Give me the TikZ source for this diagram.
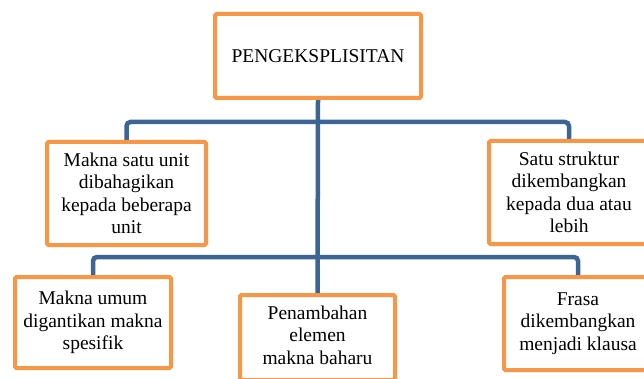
\documentclass[tikz,border=0pt]{standalone}
\usepackage{fontspec}
\setmainfont{Liberation Serif}
\usetikzlibrary{backgrounds}
\definecolor{boxorange}{HTML}{F79646}
\definecolor{linkblue}{HTML}{3C6595}
\begin{document}
\begin{tikzpicture}[x=1pt,y=-1pt,
  box/.style={draw=boxorange, line width=4pt, fill=white, rounded corners=1.5pt,
    align=center, inner sep=0pt, font=\fontsize{19.5}{22.5}\selectfont},
  conn/.style={draw=linkblue, line width=4.5pt, rounded corners=4pt}]
\useasboundingbox (0,0) rectangle (644,379);
\clip (0,0) rectangle (644,379);
% nodes
\node[box, minimum width=206pt, minimum height=84pt] (top) at (318,56) {PENGEKSPLISITAN};
\node[box, minimum width=159pt, minimum height=103pt] (b1) at (126.5,193.5) {Makna satu unit\\dibahagikan\\kepada beberapa\\unit};
\node[box, minimum width=160pt, minimum height=103pt] (b2) at (569,192.5) {Satu struktur\\dikembangkan\\kepada dua atau\\lebih};
\node[box, minimum width=156pt, minimum height=91pt] (b3) at (93,322.5) {Makna umum\\digantikan makna\\spesifik};
\node[box, minimum width=155pt, minimum height=85pt] (b4) at (317.5,337.5) {};
\node[font=\fontsize{19.5}{22.5}\selectfont, align=center, inner sep=0pt] (b4t) at (317.5,335) {Penambahan\\elemen\\makna baharu};
\node[box, minimum width=148pt, minimum height=93pt] (b5) at (578,323.5) {Frasa\\dikembangkan\\menjadi klausa};
\coordinate (busA) at (0,122);
\coordinate (busB) at (0,257);
% connectors (behind boxes)
\begin{scope}[on background layer]
\fill[white] (0,0) rectangle (644,379);
\draw[conn] (top.south) -- (b4.north);
\draw[conn] (b1.north) -- (b1.north |- busA) -- (b2.north |- busA) -- (b2.north);
\draw[conn] (b3.north) -- (b3.north |- busB) -- (b5.north |- busB) -- (b5.north);
\end{scope}
\end{tikzpicture}
\end{document}
